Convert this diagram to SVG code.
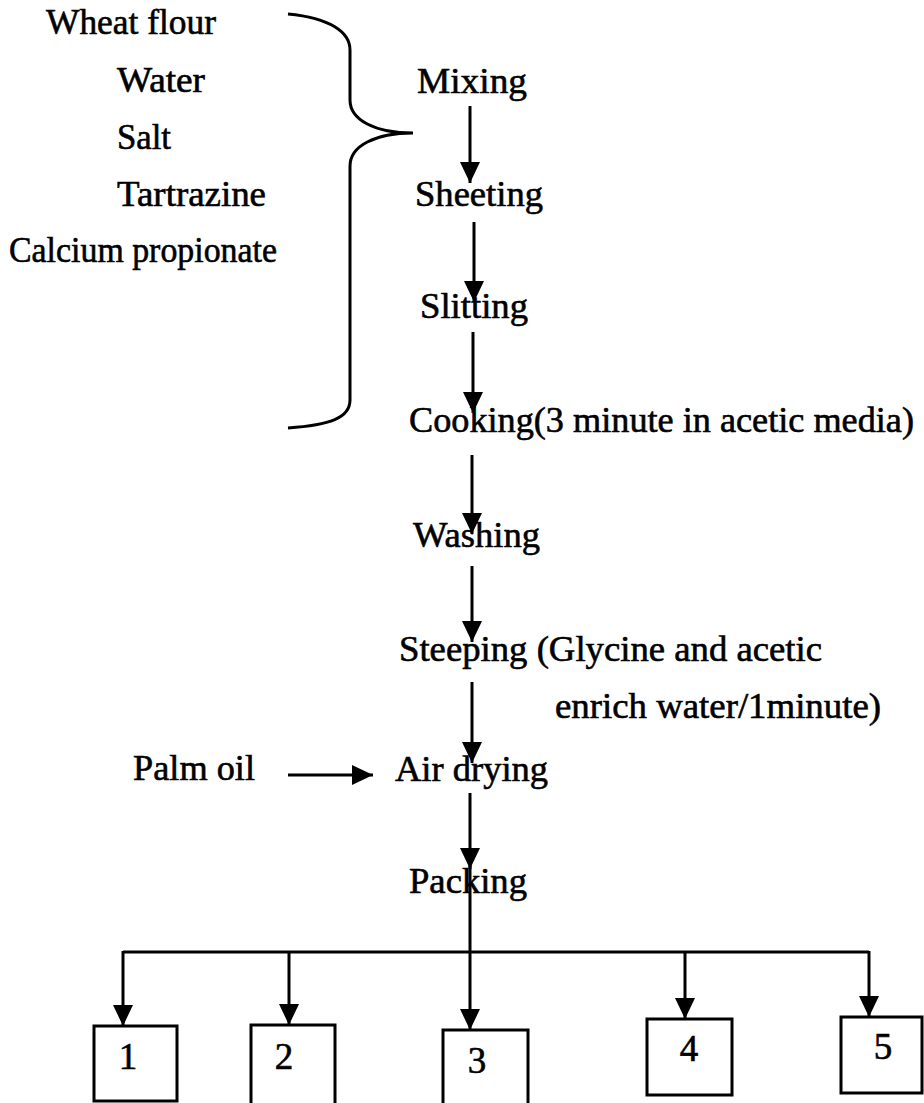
<svg xmlns="http://www.w3.org/2000/svg" width="924" height="1103" viewBox="0 0 924 1103">
<style>
text{font-family:"Liberation Serif","Times New Roman",serif;font-size:36px;fill:#000;stroke:#000;stroke-width:0.6}
.num{font-size:37px;text-anchor:middle}
.ln{stroke:#000;stroke-width:3;fill:none}
.box{stroke:#000;stroke-width:3;fill:#fff}
</style>
<defs>
<marker id="ah" markerUnits="userSpaceOnUse" markerWidth="22" markerHeight="22" refX="21" refY="10" orient="auto">
<path d="M0,0 L21,10 L0,20 Z" fill="#000"/>
</marker>
</defs>
<rect width="924" height="1103" fill="#fff"/>

<g id="ingredients">
<text x="46" y="34" textLength="170" lengthAdjust="spacingAndGlyphs">Wheat flour</text>
<text x="117" y="92" textLength="88" lengthAdjust="spacingAndGlyphs">Water</text>
<text x="117" y="149" textLength="54" lengthAdjust="spacingAndGlyphs">Salt</text>
<text x="117" y="206" textLength="149" lengthAdjust="spacingAndGlyphs">Tartrazine</text>
<text x="9" y="262" textLength="268" lengthAdjust="spacingAndGlyphs">Calcium propionate</text>
</g>

<g id="brace">
<path class="ln" d="M288,14 C330,18 350,32 350,50 L350,100 C350,120 375,133 413,133 C375,133 350,146 350,166 L350,400 C350,418 330,425 288,428"/>
</g>

<g id="mixing"><text x="417" y="93" textLength="110" lengthAdjust="spacingAndGlyphs">Mixing</text></g>
<g id="sheeting"><text x="415" y="206" textLength="128" lengthAdjust="spacingAndGlyphs">Sheeting</text></g>
<g id="slitting"><text x="420" y="318" textLength="108" lengthAdjust="spacingAndGlyphs">Slitting</text></g>
<g id="cooking"><text x="409" y="432" textLength="505" lengthAdjust="spacingAndGlyphs">Cooking(3 minute in acetic media)</text></g>
<g id="washing"><text x="413" y="547" textLength="127" lengthAdjust="spacingAndGlyphs">Washing</text></g>
<g id="steeping"><text x="399" y="661" textLength="423" lengthAdjust="spacingAndGlyphs">Steeping (Glycine and acetic</text><text x="555" y="718" textLength="326" lengthAdjust="spacingAndGlyphs">enrich water/1minute)</text></g>
<g id="palmoil"><text x="133" y="780" textLength="122" lengthAdjust="spacingAndGlyphs">Palm oil</text></g>
<g id="airdrying"><text x="395" y="781" textLength="153" lengthAdjust="spacingAndGlyphs">Air drying</text></g>
<g id="packing"><text x="409" y="893" textLength="118" lengthAdjust="spacingAndGlyphs">Packing</text></g>

<g id="box1"><rect class="box" x="94" y="1026" width="83" height="75"/><text class="num" x="128" y="1069">1</text></g>
<g id="box2"><rect class="box" x="251" y="1025" width="84" height="82"/><text class="num" x="284" y="1069">2</text></g>
<g id="box3"><rect class="box" x="443" y="1030" width="85" height="78"/><text class="num" x="477" y="1073">3</text></g>
<g id="box4"><rect class="box" x="647" y="1019" width="85" height="76"/><text class="num" x="689" y="1061">4</text></g>
<g id="box5"><rect class="box" x="841" y="1017" width="81" height="76"/><text class="num" x="883" y="1059">5</text></g>

<g id="connectors">
<line class="ln" x1="470" y1="106" x2="470" y2="183" marker-end="url(#ah)"/>
<line class="ln" x1="474" y1="222" x2="474" y2="302" marker-end="url(#ah)"/>
<line class="ln" x1="473" y1="332" x2="473" y2="413" marker-end="url(#ah)"/>
<line class="ln" x1="472" y1="455" x2="472" y2="534" marker-end="url(#ah)"/>
<line class="ln" x1="472" y1="566" x2="472" y2="642" marker-end="url(#ah)"/>
<line class="ln" x1="472" y1="682" x2="472" y2="763" marker-end="url(#ah)"/>
<line class="ln" x1="288" y1="775" x2="373" y2="775" marker-end="url(#ah)"/>
<line class="ln" x1="470" y1="793" x2="470" y2="869" marker-end="url(#ah)"/>
<line class="ln" x1="470" y1="866" x2="470" y2="952"/>
<line class="ln" x1="123" y1="952" x2="869" y2="952"/>
<line class="ln" x1="123" y1="951" x2="123" y2="1026" marker-end="url(#ah)"/>
<line class="ln" x1="289" y1="952" x2="289" y2="1025" marker-end="url(#ah)"/>
<line class="ln" x1="470" y1="952" x2="470" y2="1030" marker-end="url(#ah)"/>
<line class="ln" x1="685" y1="952" x2="685" y2="1019" marker-end="url(#ah)"/>
<line class="ln" x1="869" y1="951" x2="869" y2="1017" marker-end="url(#ah)"/>
</g>
</svg>
